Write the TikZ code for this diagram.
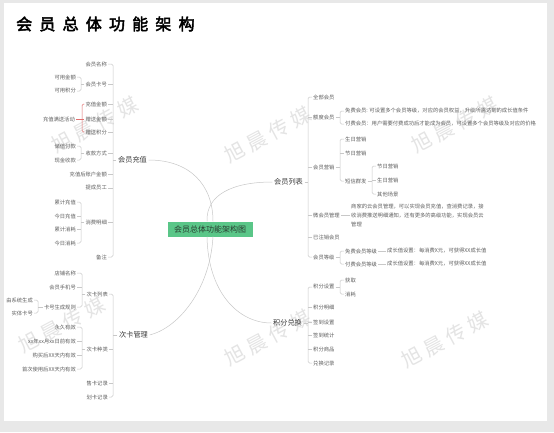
\documentclass[tikz,border=0pt]{standalone}
\usepackage{fontspec}
\setmainfont{Noto Sans CJK SC}
\newfontfamily\titlefont[FakeBold=3,LetterSpace=45]{Noto Sans CJK SC}
\newfontfamily\wmfont[LetterSpace=25]{Noto Sans CJK SC}
\definecolor{bgc}{RGB}{232,232,232}
\definecolor{txtc}{RGB}{95,95,95}
\definecolor{mainc}{RGB}{60,60,60}
\definecolor{linec}{RGB}{200,200,200}
\definecolor{redc}{RGB}{226,110,110}
\definecolor{greenc}{RGB}{90,198,136}
\definecolor{ctext}{RGB}{40,60,48}
\definecolor{wmc}{RGB}{228,228,228}
\begin{document}
\begin{tikzpicture}[x=1pt,y=-1pt,
  lf/.style={font=\fontsize{5.3}{6.4}\selectfont, text=txtc, inner sep=1pt},
  L/.style={lf, anchor=east},
  R/.style={lf, anchor=west},
  mn/.style={font=\fontsize{7.2}{8.6}\selectfont, text=mainc, inner sep=1.5pt},
  ln/.style={draw=linec, line width=0.5pt},
  br/.style={ln, rounded corners=1.5pt},
  rb/.style={draw=redc, line width=0.5pt, rounded corners=1.5pt},
  cv/.style={draw=linec, line width=0.5pt},
  wm/.style={font=\wmfont\fontsize{20}{24}\selectfont, text=wmc, rotate=28}
]
\useasboundingbox (0,0) rectangle (554,432);
\fill[bgc] (0,0) rectangle (554,432);
\fill[white] (4,3) rectangle (547,421);

% watermarks
\node[wm] (w1) at (95,125) {旭晨传媒};
\node[wm] (w2) at (268,135) {旭晨传媒};
\node[wm] (w3) at (455,125) {旭晨传媒};
\node[wm] (w4) at (62,325) {旭晨传媒};
\node[wm] (w5) at (268,338) {旭晨传媒};
\node[wm] (w6) at (445,340) {旭晨传媒};

% title
\node[anchor=west, font=\titlefont\fontsize{16}{19}\selectfont, text=black, inner sep=0pt] (title) at (16,24) {会员总体功能架构};

% center
\node[fill=greenc, text=ctext, font=\fontsize{8}{9.6}\selectfont, minimum width=85pt, minimum height=15pt, inner sep=1pt] (c) at (210,229) {会员总体功能架构图};

% main branches
\node[mn] (cz) at (132.5,160) {会员充值};
\node[mn] (ml) at (288.5,182) {会员列表};
\node[mn] (ck) at (133.5,335) {次卡管理};
\node[mn] (jf) at (287.5,323) {积分兑换};

\draw[cv] (cz.east) .. controls (190,160) and (213,185) .. ([xshift=3]c.north);
\draw[cv] ([xshift=-3]c.north) .. controls (206,195) and (232,182) .. (ml.west);
\draw[cv] ([xshift=3]c.south) .. controls (210,290) and (178,328) .. (ck.east);
\draw[cv] ([xshift=-3]c.south) .. controls (208,292) and (238,323) .. (jf.west);

% ---------- 会员充值 ----------
\coordinate (sA) at (113,0);
\node[L] (m1) at (108,64) {会员名称};
\node[L] (m2) at (108,84) {会员卡号};
\node[L] (m3) at (108,104) {充值金额};
\node[L] (m4) at (108,119) {赠送金额};
\node[L] (m5) at (108,132) {赠送积分};
\node[L] (m6) at (108,153) {收款方式};
\node[L] (m7) at (108,174) {充值后账户金额};
\node[L] (m8) at (108,188) {提成员工};
\node[L] (m9) at (108,222) {消费明细};
\node[L] (m10) at (108,257) {备注};
\draw[br] (m1.east) -- (m1.east -| sA) -- (m10.east -| sA) -- (m10.east);
\foreach \n in {m2,m3,m4,m5,m6,m7,m8,m9} \draw[ln] (\n.east) -- (\n.east -| sA);
\draw[ln] (cz.west) -- (cz.west -| sA);

\coordinate (sa) at (81,0);
\node[L] (a1) at (77,77) {可用金额};
\node[L] (a2) at (77,91) {可用积分};
\draw[br] (a1.east) -- (a1.east -| sa) -- (a2.east -| sa) -- (a2.east);
\draw[ln] (m2.west) -- (m2.west -| sa);

\coordinate (sr) at (82,0);
\node[L] (hd) at (76,119) {充值满送活动};
\draw[rb] (m3.west) -- (m3.west -| sr) -- (m5.west -| sr) -- (m5.west);
\draw[draw=redc, line width=0.5pt] (hd.east) -- (m4.west);

\node[L] (b1) at (77,146) {储值付款};
\node[L] (b2) at (77,160) {现金收款};
\draw[br] (b1.east) -- (b1.east -| sa) -- (b2.east -| sa) -- (b2.east);
\draw[ln] (m6.west) -- (m6.west -| sa);

\node[L] (x1) at (77,202) {累计充值};
\node[L] (x2) at (77,216) {今日充值};
\node[L] (x3) at (77,229) {累计消耗};
\node[L] (x4) at (77,243) {今日消耗};
\draw[br] (x1.east) -- (x1.east -| sa) -- (x4.east -| sa) -- (x4.east);
\foreach \n in {x2,x3} \draw[ln] (\n.east) -- (\n.east -| sa);
\draw[ln] (m9.west) -- (m9.west -| sa);

% ---------- 次卡管理 ----------
\coordinate (sC) at (113,0);
\node[L] (k1) at (109,294) {次卡列表};
\node[L] (k2) at (109,349) {次卡种类};
\node[L] (k3) at (109,383) {售卡记录};
\node[L] (k4) at (109,397) {划卡记录};
\draw[br] (k1.east) -- (k1.east -| sC) -- (k4.east -| sC) -- (k4.east);
\foreach \n in {k2,k3} \draw[ln] (\n.east) -- (\n.east -| sC);
\draw[ln] (ck.west) -- (ck.west -| sC);

\coordinate (sk) at (82,0);
\node[L] (e1) at (77,273) {店铺名称};
\node[L] (e2) at (77,287) {会员手机号};
\node[L] (e3) at (77,307) {卡号生成规则};
\draw[br] (e1.east) -- (e1.east -| sk) -- (e3.east -| sk) -- (e3.east);
\draw[ln] (e2.east) -- (e2.east -| sk);
\draw[ln] (k1.west) -- (k1.west -| sk);

\coordinate (sg) at (38,0);
\node[L] (g1) at (34,300) {由系统生成};
\node[L] (g2) at (34,313) {实体卡号};
\draw[br] (g1.east) -- (g1.east -| sg) -- (g2.east -| sg) -- (g2.east);
\draw[ln] (e3.west) -- (e3.west -| sg);

\node[L] (t1) at (77,327) {永久有效};
\node[L] (t2) at (77,341) {xx年xx月xx日前有效};
\node[L] (t3) at (77,355) {购买后XX天内有效};
\node[L] (t4) at (77,369) {首次使用后XX天内有效};
\draw[br] (t1.east) -- (t1.east -| sk) -- (t4.east -| sk) -- (t4.east);
\foreach \n in {t2,t3} \draw[ln] (\n.east) -- (\n.east -| sk);
\draw[ln] (k2.west) -- (k2.west -| sk);

% ---------- 会员列表 ----------
\coordinate (sB) at (308,0);
\node[R] (r1) at (312,97) {全部会员};
\node[R] (r2) at (312,117) {额度会员};
\node[R] (r3) at (312,167) {会员营销};
\node[R] (r4) at (312,215) {微会员管理};
\node[R] (r5) at (312,237) {已注销会员};
\node[R] (r6) at (312,257) {会员等级};
\draw[br] (r1.west) -- (r1.west -| sB) -- (r6.west -| sB) -- (r6.west);
\foreach \n in {r2,r3,r4,r5} \draw[ln] (\n.west) -- (\n.west -| sB);
\draw[ln] (ml.east) -- (ml.east -| sB);

\coordinate (sb) at (340,0);
\node[R] (f1) at (344,111) {免费会员: 可设置多个会员等级，对应的会员权益，升级所需达到的成长值条件};
\node[R] (f2) at (344,124) {付费会员：用户需要付费成功后才能成为会员，可设置多个会员等级及对应的价格};
\draw[br] (f1.west) -- (f1.west -| sb) -- (f2.west -| sb) -- (f2.west);
\draw[ln] (r2.east) -- (r2.east -| sb);

\node[R] (y1) at (344,139) {生日营销};
\node[R] (y2) at (344,153) {节日营销};
\node[R] (y3) at (344,181) {短信群发};
\draw[br] (y1.west) -- (y1.west -| sb) -- (y3.west -| sb) -- (y3.west);
\draw[ln] (y2.west) -- (y2.west -| sb);
\draw[ln] (r3.east) -- (r3.east -| sb);

\coordinate (sy) at (372,0);
\node[R] (z1) at (376,166) {节日营销};
\node[R] (z2) at (376,180) {生日营销};
\node[R] (z3) at (376,194) {其他场景};
\draw[br] (z1.west) -- (z1.west -| sy) -- (z3.west -| sy) -- (z3.west);
\draw[ln] (z2.west) -- (z2.west -| sy);
\draw[ln] (y3.east) -- (y3.east -| sy);

\node[R, font=\fontsize{5.3}{9}\selectfont, align=left] (wd) at (350,215) {商家的云会员管理，可以实现会员充值，查消费记录，接\\收消费推送明细通知，还有更多的高级功能，实现会员云\\管理};
\draw[ln] (r4.east) -- (wd.west);

\node[R] (v1) at (344,251) {免费会员等级};
\node[R] (v2) at (344,264) {付费会员等级};
\draw[br] (v1.west) -- (v1.west -| sb) -- (v2.west -| sb) -- (v2.west);
\draw[ln] (r6.east) -- (r6.east -| sb);
\node[R] (u1) at (386,251) {成长值设置：每消费X元，可获得XX成长值};
\node[R] (u2) at (386,264) {成长值设置：每消费X元，可获得XX成长值};
\draw[ln] (v1.east) -- (u1.west);
\draw[ln] (v2.east) -- (u2.west);

% ---------- 积分兑换 ----------
\coordinate (sD) at (308,0);
\node[R] (p1) at (312,287) {积分设置};
\node[R] (p2) at (312,307) {积分明细};
\node[R] (p3) at (312,322) {签到设置};
\node[R] (p4) at (312,335) {签到统计};
\node[R] (p5) at (312,349) {积分商品};
\node[R] (p6) at (312,363) {兑换记录};
\draw[br] (p1.west) -- (p1.west -| sD) -- (p6.west -| sD) -- (p6.west);
\foreach \n in {p2,p3,p4,p5} \draw[ln] (\n.west) -- (\n.west -| sD);
\draw[ln] (jf.east) -- (jf.east -| sD);

\node[R] (q1) at (344,280) {获取};
\node[R] (q2) at (344,294) {消耗};
\draw[br] (q1.west) -- (q1.west -| sb) -- (q2.west -| sb) -- (q2.west);
\draw[ln] (p1.east) -- (p1.east -| sb);
\end{tikzpicture}
\end{document}
